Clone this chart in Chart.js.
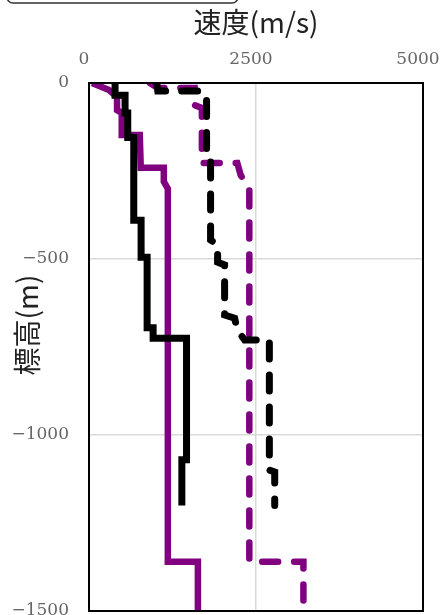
<!DOCTYPE html>
<html>
<head>
<meta charset="utf-8">
<script src="https://cdn.jsdelivr.net/npm/chart.js@4.4.1/dist/chart.umd.min.js"></script>
<style>
  html, body { margin: 0; padding: 0; background: #fff; }
  canvas { display: block; }
</style>
</head>
<body>
<canvas id="velChart" width="443" height="615"></canvas>
<script>
// axis ticks
const xTicks = [0, 2500, 5000];
const yTicks = [0, -500, -1000, -1500];

// black solid profile (velocity m/s, elevation m)
const blackSolidV = [390, 390, 540, 540, 580, 580, 670, 670, 780, 780, 870, 870, 960, 960, 1460, 1460, 1390, 1390];
const blackSolidZ = [0, -35, -35, -85, -85, -155, -155, -390, -390, -495, -495, -695, -695, -725, -725, -1070, -1070, -1200];

// black dashed profile
const blackDashV = [1015, 1030, 1700, 1760, 1760, 1820, 1820, 1925, 1925, 2030, 2030, 2180, 2220, 2330, 2700, 2700, 2780, 2780];
const blackDashZ = [0, -23, -23, -34, -190, -196, -446, -460, -509, -517, -659, -668, -702, -730, -730, -1100, -1105, -1200];

// purple solid profile
const purpleSolidV = [45, 300, 420, 420, 490, 490, 760, 775, 1120, 1120, 1180, 1180, 1630, 1630];
const purpleSolidZ = [0, -20, -40, -77, -85, -148, -148, -241, -241, -280, -300, -1360, -1360, -1540];

// purple dashed profile
const purpleDashV = [910, 1030, 1580, 1580, 1690, 1690, 2220, 2270, 2400, 2400, 3210, 3210];
const purpleDashZ = [0, -14, -14, -63, -71, -227, -227, -261, -304, -1360, -1360, -1540];

function toPoints(vs, zs) {
    return vs.map((v, i) => ({ x: v, y: zs[i] }));
}

const PURPLE = '#800080';
const tickFont = { family: 'DejaVu Serif', size: 17 };

// keep the plot box fixed: no extra room for overhanging tick labels
function noPad(axis) {
    axis.paddingTop = 0;
    axis.paddingBottom = 0;
    axis.paddingLeft = 0;
    axis.paddingRight = 0;
}

const framePlugin = {
    id: 'frame',
    afterDatasetsDraw(chart) {
        const { ctx, chartArea: a } = chart;
        ctx.save();
        ctx.strokeStyle = '#000';
        ctx.lineWidth = 2;
        ctx.strokeRect(a.left, a.top, a.right - a.left, a.bottom - a.top);
        ctx.restore();
    },
    afterDraw(chart) {
        const ctx = chart.ctx;
        ctx.save();
        // y axis title, drawn by hand so it can sit a bit above centre
        ctx.fillStyle = '#222';
        ctx.font = '28px "Noto Sans CJK JP"';
        ctx.textAlign = 'center';
        ctx.textBaseline = 'middle';
        ctx.translate(27, 325);
        ctx.rotate(-Math.PI / 2);
        ctx.fillText('標高(m)', 0, 0);
        ctx.restore();

        // cut-off legend box at the top left
        ctx.save();
        ctx.strokeStyle = '#333';
        ctx.lineWidth = 1.5;
        ctx.beginPath();
        ctx.roundRect(7, -20, 231, 23, 6);
        ctx.stroke();
        ctx.restore();
    }
};

const ctx = document.getElementById('velChart').getContext('2d');
new Chart(ctx, {
    type: 'scatter',
    data: {
        datasets: [
            {
                label: '黒実線',
                data: toPoints(blackSolidV, blackSolidZ),
                borderColor: '#000',
                borderWidth: 7
            },
            {
                label: '黒破線',
                data: toPoints(blackDashV, blackDashZ),
                borderColor: '#000',
                borderWidth: 7,
                borderDash: [16, 16],
                borderCapStyle: 'round'
            },
            {
                label: '紫実線',
                data: toPoints(purpleSolidV, purpleSolidZ),
                borderColor: PURPLE,
                borderWidth: 6.5
            },
            {
                label: '紫破線',
                data: toPoints(purpleDashV, purpleDashZ),
                borderColor: PURPLE,
                borderWidth: 6.5,
                borderDash: [16, 16],
                borderCapStyle: 'round'
            }
        ].map(ds => Object.assign({ showLine: true, pointRadius: 0, fill: false, tension: 0, clip: 0 }, ds))
    },
    options: {
        responsive: false,
        animation: false,
        layout: { padding: { top: 0, right: 20, bottom: 4, left: 0 } },
        plugins: { legend: { display: false }, tooltip: { enabled: false } },
        scales: {
            x: {
                type: 'linear',
                position: 'top',
                min: 0,
                max: 5000,
                afterBuildTicks: axis => { axis.ticks = xTicks.map(v => ({ value: v })); },
                afterFit: axis => { axis.height = 83; noPad(axis); },
                grid: { color: '#d9d9d9', lineWidth: 1.5, drawTicks: false },
                border: { display: false },
                ticks: {
                    font: tickFont,
                    color: '#666',
                    padding: 13,
                    labelOffset: -5,
                    maxRotation: 0,
                    callback: v => String(v)
                },
                title: {
                    display: true,
                    text: '速度(m/s)',
                    color: '#222',
                    font: { family: 'Noto Sans CJK JP', size: 28 },
                    padding: { top: 6, bottom: 0 }
                }
            },
            y: {
                type: 'linear',
                min: -1500,
                max: 0,
                afterBuildTicks: axis => { axis.ticks = yTicks.map(v => ({ value: v })); },
                afterFit: axis => { axis.width = 89; noPad(axis); },
                grid: { color: '#d9d9d9', lineWidth: 1.5, drawTicks: false },
                border: { display: false },
                ticks: {
                    font: tickFont,
                    color: '#666',
                    padding: 20,
                    callback: v => (v < 0 ? '\u2212' + Math.abs(v) : String(v))
                }
            }
        }
    },
    plugins: [framePlugin]
});
</script>
</body>
</html>
